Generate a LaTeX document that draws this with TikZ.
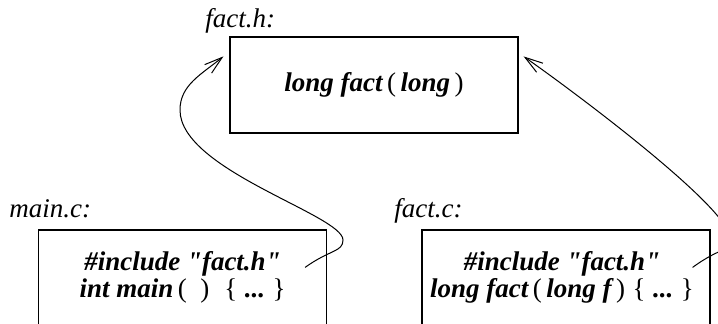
\documentclass[tikz,border=0pt]{standalone}
\usepackage{fontspec}
\setmainfont{Liberation Serif}
\usetikzlibrary{arrows.meta,calc,positioning}
\newcommand{\rp}[1]{{\mdseries\upshape #1}}
\begin{document}
\begin{tikzpicture}[x=0.5pt,y=-0.5pt]
    \tikzstyle{every node}+=[inner sep=0pt]
    \tikzstyle{filebox}=[draw=black, line width=0.6pt, minimum width=144pt]
    \tikzstyle{code}=[font=\fontsize{13.5}{13.5}\selectfont\bfseries\itshape, align=center]
    \tikzstyle{fname}=[font=\fontsize{13.5}{14}\selectfont\itshape, anchor=base west]
    \tikzstyle{incl}=[black, line width=0.5pt, -{Straight Barb[length=9pt,width=5.5pt]}]
    \useasboundingbox (0,0) rectangle (718,323);
    \clip (0,0) rectangle (718,323);
    \node [filebox, code, minimum height=48pt] (facth) at (374,85) {long fact\,\rp{(}\,long\,\rp{)}};
    \node [filebox, minimum height=60pt] (mainc) at (182.5,290) {};
    \node [filebox, minimum height=60pt] (factc) at (566,290) {};
    \node [code, below=11pt of mainc.north] (maintext) {\#include \textquotedbl fact.h\textquotedbl\\int main\,\rp{(}\enspace\rp{)}\;\;\rp{\textbraceleft}\;...\;\rp{\textbraceright}};
    \node [code, below=11pt of factc.north, xshift=-2pt] (facttext) {\#include \textquotedbl fact.h\textquotedbl\\long fact\,\rp{(}\,long f\,\rp{)}\;\rp{\textbraceleft}\;...\;\rp{\textbraceright}};
    \node [fname] (facthname) at (205,27) {fact.h:};
    \node [fname] (maincname) at (9,217) {main.c:};
    \node [fname] (factcname) at (394,217) {fact.c:};
    \draw [incl] ($(mainc.north east)+(-22,38)$) .. controls +(25,-18) and +(0,12) .. (343,240) .. controls +(0,-25) and +(0,60) .. (180,110) .. controls +(0,-25) and +(-22,18) .. ($(facth.north west)+(-6,20)$);
    \draw [incl] ($(factc.north east)+(-18,38)$) .. controls +(30,-22) and +(0,15) .. (730,238) .. controls +(0,-30) and +(50,35) .. ($(facth.north east)+(5,20)$);
\end{tikzpicture}
\end{document}
